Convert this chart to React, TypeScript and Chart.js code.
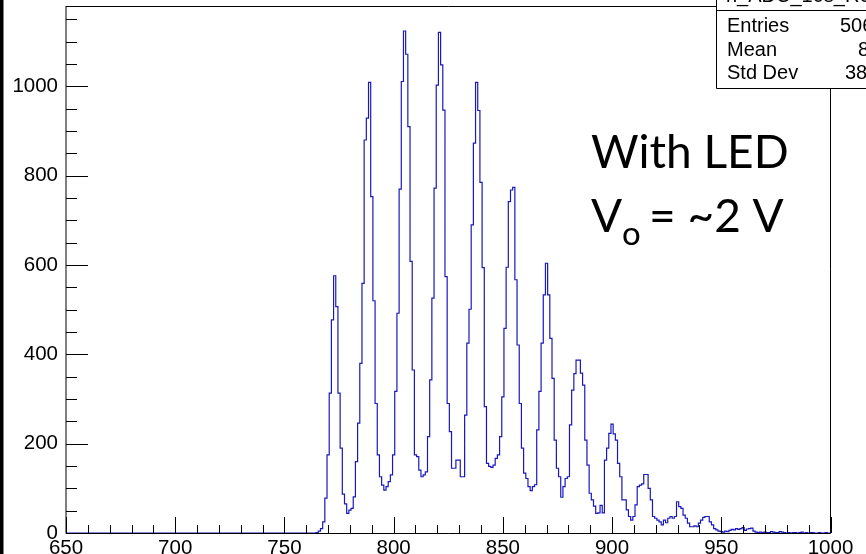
import React, { useEffect, useRef } from 'react';
import { Chart, registerables } from 'chart.js';

Chart.register(...registerables);

// ---- data ----
const X_MIN = 650;
const X_MAX = 1000;
const Y_MAX = 1180;
const FIRST_BIN_LOW_EDGE = 764.5; // bins are 1 ADC count wide
const BIN_WIDTH = 1;

// counts for bins centred on 765, 766, ... 999
const counts: number[] = [
  1, 4, 10, 25, 78, 175, 313, 477, 576, 507, // 765-774
  313, 190, 87, 65, 44, 51, 55, 81, 160, 246, // 775-784
  380, 559, 880, 929, 1009, 753, 520, 290, 175, 126, // 785-794
  107, 96, 104, 115, 130, 175, 317, 492, 770, 1011, // 795-804
  1124, 1072, 910, 608, 365, 175, 171, 141, 126, 130, // 805-814
  137, 216, 343, 526, 772, 1003, 1121, 1048, 947, 574, // 815-824
  290, 227, 145, 145, 163, 163, 126, 126, 264, 425, // 825-834
  501, 690, 873, 1009, 946, 785, 594, 283, 156, 149, // 835-844
  147, 152, 167, 175, 216, 305, 458, 595, 742, 768, // 845-854
  774, 567, 421, 290, 190, 134, 122, 104, 95, 104, // 855-864
  108, 231, 317, 425, 533, 604, 533, 436, 346, 208, // 865-874
  145, 126, 80, 104, 122, 126, 242, 320, 357, 387, // 875-884
  387, 358, 331, 208, 152, 89, 74, 60, 44, 45, // 885-894
  62, 45, 163, 190, 223, 244, 222, 208, 156, 126, // 895-904
  74, 74, 52, 37, 29, 37, 63, 104, 107, 110, // 905-914
  131, 131, 100, 74, 37, 33, 29, 25, 18, 29, // 915-924
  23, 33, 37, 33, 37, 70, 59, 55, 40, 33, // 925-934
  22, 14, 14, 16, 14, 22, 29, 35, 37, 37, // 935-944
  25, 18, 10, 7, 4, 3, 2, 4, 3, 6, // 945-954
  8, 7, 10, 8, 10, 12, 6, 9, 10, 11, // 955-964
  4, 2, 1, 2, 1, 2, 1, 1, 3, 2, // 965-974
  1, 1, 3, 2, 1, 0, 1, 0, 1, 1, // 975-984
  0, 1, 2, 0, 1, 0, 1, 1, 0, 0, // 985-994
  1, 0, 0, 1, 0, // 995-999
];

const xMajorTicks = [650, 700, 750, 800, 850, 900, 950, 1000];
const xMinorStep = 10;
const yMajorTicks = [0, 200, 400, 600, 800, 1000];
const yMinorStep = 50;

const histTitle = 'h_ADC_10s_R01_0';
const statsLabels = ['Entries', 'Mean', 'Std Dev'];
const statsValues = ['50642', '826.6', '38.65'];

const noteLine1 = 'With LED';
const noteV = 'V';
const noteSub = 'o';
const noteRest = '= ~2 V';

const AXIS_FONT = '"Liberation Sans", Arial, Helvetica, sans-serif';
const NOTE_FONT = 'Lato, "Open Sans", sans-serif';

const rootPlugin = {
  id: 'rootStyle',
  beforeDraw(chart: any) {
    const { ctx, width, height } = chart;
    ctx.save();
    ctx.fillStyle = '#ffffff';
    ctx.fillRect(0, 0, width, height);
    ctx.fillStyle = '#000000';
    ctx.fillRect(0, 0, 3.5, height);
    ctx.restore();
  },
  afterDatasetsDraw(chart: any) {
    const { ctx, chartArea } = chart;
    const xs = chart.scales.x;
    const ys = chart.scales.y;
    const L = chartArea.left;
    const R = chartArea.right;
    const T = chartArea.top;
    const B = chartArea.bottom;
    ctx.save();
    ctx.strokeStyle = '#000000';
    ctx.lineWidth = 1;
    // frame
    ctx.beginPath();
    ctx.moveTo(L, T + 0.5);
    ctx.lineTo(R, T + 0.5);
    ctx.moveTo(R, T);
    ctx.lineTo(R, B + 0.5);
    ctx.moveTo(L, B + 0.5);
    ctx.lineTo(R, B + 0.5);
    ctx.moveTo(L, T);
    ctx.lineTo(L, B + 0.5);
    ctx.stroke();

    // x ticks (inside, pointing up)
    ctx.beginPath();
    for (let v = X_MIN; v <= X_MAX + 1e-6; v += xMinorStep) {
      const px = Math.round(xs.getPixelForValue(v)) + 0.5;
      const major = xMajorTicks.includes(v);
      const len = major ? 16 : 8;
      ctx.moveTo(px, B);
      ctx.lineTo(px, B - len);
    }
    ctx.stroke();

    // y ticks (inside, pointing right)
    ctx.beginPath();
    for (let v = 0; v <= Y_MAX; v += yMinorStep) {
      const py = Math.round(ys.getPixelForValue(v)) + 0.5;
      const major = yMajorTicks.includes(v);
      const len = major ? 22 : 11;
      ctx.moveTo(L, py);
      ctx.lineTo(L + len, py);
    }
    ctx.stroke();
    ctx.restore();
  },
  afterDraw(chart: any) {
    const { ctx, width } = chart;
    ctx.save();
    // stats box
    const bx = 716.5;
    const bBottom = 88.5;
    ctx.fillStyle = '#ffffff';
    ctx.fillRect(bx, -2, width - bx + 2, bBottom + 2);
    ctx.strokeStyle = '#000000';
    ctx.lineWidth = 1;
    ctx.beginPath();
    ctx.moveTo(bx, -2);
    ctx.lineTo(bx, bBottom);
    ctx.lineTo(width + 2, bBottom);
    ctx.moveTo(bx, 10.5);
    ctx.lineTo(width + 2, 10.5);
    ctx.stroke();

    ctx.fillStyle = '#000000';
    ctx.font = `20px ${AXIS_FONT}`;
    ctx.textAlign = 'left';
    ctx.textBaseline = 'alphabetic';
    ctx.fillText(histTitle, 726, 2);
    const baselines = [32, 56, 79];
    const valueX = [840, 858, 845];
    statsLabels.forEach((lab, i) => {
      ctx.fillText(lab, 727, baselines[i]);
      ctx.fillText(statsValues[i], valueX[i], baselines[i]);
    });

    // annotation
    ctx.font = `46px ${NOTE_FONT}`;
    ctx.fillText(noteLine1, 591, 168);
    ctx.fillText(noteV, 591, 232);
    ctx.font = `33px ${NOTE_FONT}`;
    ctx.fillText(noteSub, 622, 245);
    ctx.font = `46px ${NOTE_FONT}`;
    ctx.fillText(noteRest, 649, 232);
    ctx.restore();
  },
};

export default function App() {
  const canvasRef = useRef<HTMLCanvasElement | null>(null);

  useEffect(() => {
    document.body.style.margin = '0';
    const canvas = canvasRef.current;
    if (!canvas) return;

    const points: { x: number; y: number }[] = [{ x: X_MIN, y: 0 }];
    counts.forEach((c, i) => {
      points.push({ x: FIRST_BIN_LOW_EDGE + i * BIN_WIDTH, y: c });
    });
    points.push({ x: FIRST_BIN_LOW_EDGE + counts.length * BIN_WIDTH, y: 0 });
    points.push({ x: X_MAX, y: 0 });

    const chart = new Chart(canvas, {
      type: 'line',
      data: {
        datasets: [
          {
            data: points,
            stepped: 'before' as any,
            borderColor: 'rgb(24, 24, 190)',
            borderWidth: 1.2,
            pointRadius: 0,
            fill: false,
            tension: 0,
          },
        ],
      },
      options: {
        animation: false,
        responsive: false,
        events: [],
        parsing: false,
        layout: { padding: { left: 0, top: 6, right: 35.5, bottom: 0 } },
        plugins: {
          legend: { display: false },
          tooltip: { enabled: false },
          title: { display: false },
        },
        scales: {
          x: {
            type: 'linear',
            min: X_MIN,
            max: X_MAX,
            grid: { display: false },
            border: { display: false },
            ticks: {
              color: '#000000',
              font: { family: AXIS_FONT, size: 20.5 },
              padding: -5,
              maxRotation: 0,
              autoSkip: false,
              callback: (v: any) => String(v),
            },
            afterBuildTicks: (s: any) => {
              s.ticks = xMajorTicks.map((v) => ({ value: v }));
            },
            afterFit: (s: any) => {
              s.height = 21;
              s.paddingLeft = 0;
              s.paddingRight = 0;
            },
          },
          y: {
            type: 'linear',
            min: 0,
            max: Y_MAX,
            grid: { display: false },
            border: { display: false },
            ticks: {
              color: '#000000',
              font: { family: AXIS_FONT, size: 20.5 },
              padding: 0,
              callback: (v: any) => String(v),
            },
            afterBuildTicks: (s: any) => {
              s.ticks = yMajorTicks.map((v) => ({ value: v }));
            },
            afterFit: (s: any) => {
              s.width = 66;
              s.paddingTop = 0;
              s.paddingBottom = 0;
            },
          },
        },
      },
      plugins: [rootPlugin],
    });

    return () => {
      chart.destroy();
    };
  }, []);

  return (
    <div style={{ position: 'absolute', left: 0, top: 0, width: 866, height: 554, overflow: 'hidden' }}>
      <canvas ref={canvasRef} width={866} height={554} style={{ display: 'block' }} />
    </div>
  );
}
